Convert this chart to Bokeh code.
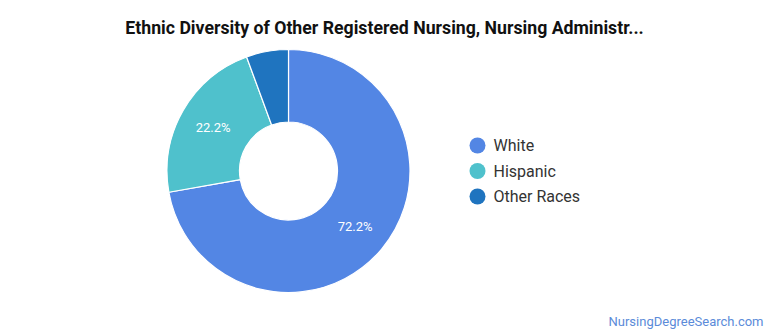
import math
from bokeh.plotting import figure
from bokeh.models import ColumnDataSource
from bokeh.core.properties import value
from bokeh.embed import file_html
from bokeh.resources import INLINE

# ---- data ----
categories = ["White", "Hispanic", "Other Races"]
shares = [72.2, 22.2, 5.6]
colors = ["#5386E4", "#4FC1CC", "#1F74BF"]
title_text = "Ethnic Diversity of Other Registered Nursing, Nursing Administr..."
watermark = "NursingDegreeSearch.com"

W, H = 770, 335
p = figure(width=W, height=H, x_range=(0, W), y_range=(0, H),
           output_backend="svg", toolbar_location=None, min_border=0)
p.axis.visible = False
p.grid.visible = False
p.outline_line_color = None
p.background_fill_color = "white"
p.border_fill_color = "white"

cx, cy = 288, H - 170.5
r_out, r_in = 121.5, 49

total = sum(shares)
starts, ends, mids = [], [], []
cum = 0.0
for s in shares:
    a0 = math.pi / 2 - 2 * math.pi * cum / total
    cum += s
    a1 = math.pi / 2 - 2 * math.pi * cum / total
    starts.append(a0)
    ends.append(a1)
    mids.append((a0 + a1) / 2)

src = ColumnDataSource(dict(cat=categories, share=shares, color=colors,
                            start=starts, end=ends))
p.annular_wedge(x=cx, y=cy, inner_radius=r_in, outer_radius=r_out,
                start_angle="start", end_angle="end", direction="clock",
                fill_color="color", line_color="white", line_width=1.2,
                source=src)

# percent labels
r_lab = 87
lx, ly, lt = [], [], []
for s, m in zip(shares, mids):
    if s / total >= 0.1:
        lx.append(cx + r_lab * math.cos(m))
        ly.append(cy + r_lab * math.sin(m))
        lt.append(f"{s:.1f}%")
p.text(x=lx, y=ly, text=lt, text_color="white", text_font=value("Roboto"),
       text_font_size="13px", text_align="center", text_baseline="middle")

# title
p.text(x=[384], y=[H - 27], text=[title_text], text_font=value("Roboto"),
       text_font_style="bold", text_font_size="17.7px", text_color="#111111",
       text_align="center", text_baseline="middle")

# legend
leg_x = 477
leg_y = [H - 145, H - 170.5, H - 196]
p.scatter(x=[leg_x] * 3, y=leg_y, size=16, color=colors, line_color=None)
p.text(x=[leg_x + 16] * 3, y=leg_y, text=categories, text_font=value("Roboto"),
       text_font_size="16px", text_color="#333333", text_align="left",
       text_baseline="middle")

# watermark
p.text(x=[763], y=[H - 321], text=[watermark], text_font=value("Roboto"),
       text_font_size="13px", text_color="#5B8BD9", text_align="right",
       text_baseline="middle")

open("out.html", "w").write(file_html(p, INLINE))
